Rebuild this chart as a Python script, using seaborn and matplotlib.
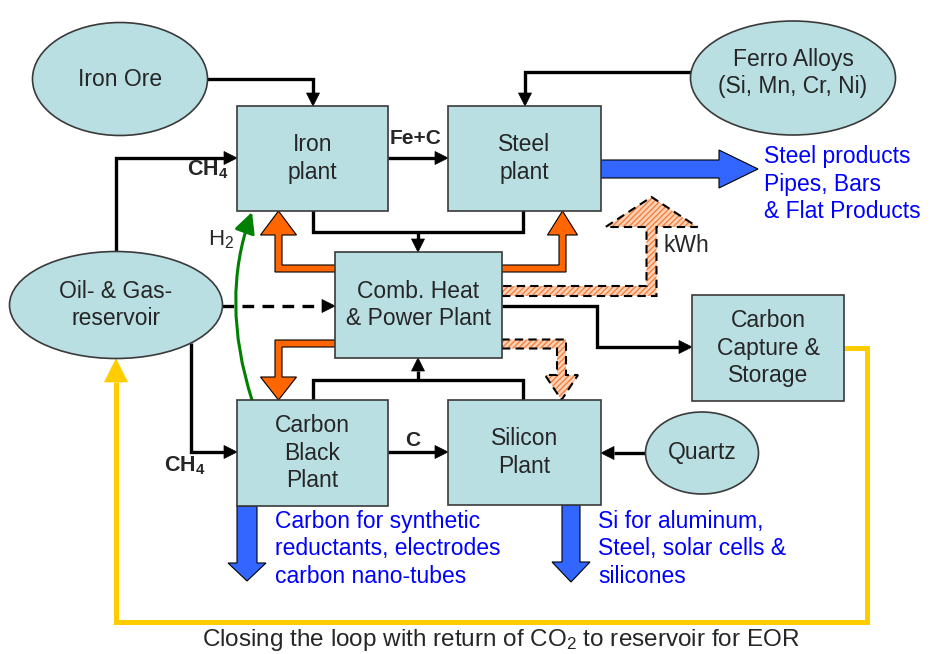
import numpy as np
import matplotlib
matplotlib.use("Agg")
import matplotlib.pyplot as plt
import seaborn as sns
from matplotlib.patches import Rectangle, Ellipse, Polygon, FancyArrowPatch
from matplotlib.path import Path

# labels of the flow diagram
plant_labels = ["Iron\nplant", "Steel\nplant", "Comb. Heat\n& Power Plant",
                "Carbon\nBlack\nPlant", "Silicon\nPlant", "Carbon\nCapture &\nStorage"]
source_labels = ["Iron Ore", "Ferro Alloys\n(Si, Mn, Cr, Ni)", "Oil- & Gas-\nreservoir", "Quartz"]
flow_labels = ["Fe+C", r"$\mathbf{CH_4}$", r"$\mathbf{CH_4}$", "C", r"H$_2$", "kWh"]
product_labels = ["Steel products\nPipes, Bars\n& Flat Products",
                  "Carbon for synthetic\nreductants, electrodes\ncarbon nano-tubes",
                  "Si for aluminum,\nSteel, solar cells &\nsilicones"]
caption = r"Closing the loop with return of CO$_2$ to reservoir for EOR"

sns.set_theme(style="white")
plt.rcParams["font.family"] = ["Liberation Sans", "DejaVu Sans"]
plt.rcParams["mathtext.fontset"] = "custom"
plt.rcParams["mathtext.rm"] = "Liberation Sans"
plt.rcParams["mathtext.bf"] = "Liberation Sans:bold"
plt.rcParams["mathtext.it"] = "Liberation Sans:italic"

FILL = "#B9DFE2"
EDGE = "#3A3A3A"
ORANGE = "#FF6600"
BLUE = "#3366FF"
TXTBLUE = "#0000FF"
GREEN = "#008000"
YELLOW = "#FFCC00"

fig = plt.figure(figsize=(9.3, 6.54), dpi=100)
ax = fig.add_axes([0, 0, 1, 1])
ax.set_xlim(0, 930)
ax.set_ylim(654, 0)
ax.set_axis_off()


def box(x0, y0, x1, y1, label):
    ax.add_patch(Rectangle((x0, y0), x1 - x0, y1 - y0, fc=FILL, ec=EDGE, lw=1.2, zorder=5))
    ax.text((x0 + x1) / 2, (y0 + y1) / 2, label, ha="center", va="center",
            fontsize=16.5, linespacing=1.25, zorder=6)


def oval(cx, cy, w, h, label, ty=None):
    ax.add_patch(Ellipse((cx, cy), w, h, fc=FILL, ec=EDGE, lw=1.2, zorder=5))
    ax.text(cx, cy if ty is None else ty, label, ha="center", va="center",
            fontsize=16.5, linespacing=1.25, zorder=6)


def thin_arrow(pts, color="black", lw=2.4, ls="-", head_len=13, head_w=13, z=3):
    pts = np.array(pts, float)
    d = pts[-1] - pts[-2]
    d = d / np.hypot(*d)
    base = pts[-1] - d * head_len
    line = np.vstack([pts[:-1], base])
    ax.plot(line[:, 0], line[:, 1], color=color, lw=lw, ls=ls, zorder=z,
            solid_capstyle="butt", solid_joinstyle="miter", dash_capstyle="butt")
    n = np.array([-d[1], d[0]])
    ax.add_patch(Polygon([base + n * head_w / 2, pts[-1], base - n * head_w / 2],
                         closed=True, fc=color, ec=color, lw=0.5, zorder=z))


def fat_outline(pts, hw, head_hw, head_len):
    pts = np.array(pts, float)
    d = pts[-1] - pts[-2]
    d = d / np.hypot(*d)
    base = pts[-1] - d * head_len
    path = np.vstack([pts[:-1], base])
    nrm = []
    for a, b in zip(path[:-1], path[1:]):
        s = (b - a) / np.hypot(*(b - a))
        nrm.append(np.array([-s[1], s[0]]))
    left, right = [], []
    for i, p in enumerate(path):
        if i == 0:
            n = nrm[0]
        elif i == len(path) - 1:
            n = nrm[-1]
        else:
            n = nrm[i - 1] + nrm[i]
        left.append(p + hw * n)
        right.append(p - hw * n)
    nl = nrm[-1]
    return left + [base + head_hw * nl, pts[-1], base - head_hw * nl] + right[::-1]


def fat_arrow(pts, hw, head_hw, head_len, fc, z=4):
    poly = fat_outline(pts, hw, head_hw, head_len)
    ax.add_patch(Polygon(poly, closed=True, fc=fc, ec="black", lw=0.8, zorder=z))


def hatched_arrow(pts, hw, head_hw, head_len, z=4):
    poly = fat_outline(pts, hw, head_hw, head_len)
    ax.add_patch(Polygon(poly, closed=True, fc="#FCD3B6", ec="#F5803F", lw=0,
                         hatch="//////", zorder=z))
    ax.add_patch(Polygon(poly, closed=True, fill=False, ec="black", lw=1.5,
                         ls=(0, (4, 2.5)), zorder=z + 0.1))


# boxes and ovals
box(237, 106, 388, 211, plant_labels[0])
box(448, 106, 601, 211, plant_labels[1])
box(335, 252, 502, 358, plant_labels[2])
box(237, 400, 388, 506, plant_labels[3])
box(448, 400, 601, 505, plant_labels[4])
box(692, 295, 844, 401, plant_labels[5])

oval(120, 79, 175, 113, source_labels[0])
oval(793, 78, 205, 114, source_labels[1], ty=73)
oval(116, 305, 213, 107, source_labels[2])
oval(702, 453, 113, 82, source_labels[3])

# thin black flows
thin_arrow([(207, 79), (313, 79), (313, 106)])
thin_arrow([(691, 72), (525, 72), (525, 106)])
thin_arrow([(116, 252), (116, 158), (237, 158)])
thin_arrow([(388, 158), (448, 158)])
thin_arrow([(191, 343), (191, 452), (237, 452)])
thin_arrow([(388, 452), (448, 452)])
thin_arrow([(646, 453), (601, 453)])
thin_arrow([(502, 306), (597, 306), (597, 347), (692, 347)])
thin_arrow([(222, 306), (335, 306)], ls=(0, (3.5, 2.5)))
ax.plot([313, 313, 523, 523], [211, 232, 232, 211], color="black", lw=2.4,
        solid_joinstyle="miter", zorder=3)
thin_arrow([(418, 232), (418, 252)])
ax.plot([313, 313, 523, 523], [400, 380, 380, 400], color="black", lw=2.4,
        solid_joinstyle="miter", zorder=3)
thin_arrow([(418, 380), (418, 358)])

# yellow CO2 return loop
thin_arrow([(844, 348), (867, 348), (867, 622), (116, 622), (116, 359)],
           color=YELLOW, lw=3.6, head_len=23, head_w=23, z=2)

# orange heat arrows
fat_arrow([(340, 268.5), (278.5, 268.5), (278.5, 211)], 3.5, 18, 24, ORANGE)
fat_arrow([(497, 268.5), (562.5, 268.5), (562.5, 211)], 3.5, 15, 24, ORANGE)
fat_arrow([(340, 343.5), (278.5, 343.5), (278.5, 400)], 3.5, 18, 23, ORANGE)

# electricity (hatched, dashed)
hatched_arrow([(502, 291), (651.5, 291), (651.5, 197)], 5, 46, 30)
hatched_arrow([(502, 344), (561.5, 344), (561.5, 400)], 4.5, 16.5, 25)

# product arrows
fat_arrow([(601, 169), (758, 169)], 9, 19, 39, BLUE)
fat_arrow([(247, 506), (247, 581)], 10, 19, 18, BLUE)
fat_arrow([(571, 505), (571, 582)], 9, 19, 20, BLUE)

# hydrogen curve
h2 = Path([(252, 400), (220, 300), (252, 212)], [Path.MOVETO, Path.CURVE3, Path.CURVE3])
ax.add_patch(FancyArrowPatch(path=h2, arrowstyle="-|>,head_length=0.7,head_width=0.35",
                             mutation_scale=18, color=GREEN, lw=2.2, zorder=4))

# flow labels
ax.text(416, 139, flow_labels[0], ha="center", va="center", fontsize=15, fontweight="bold")
ax.text(208, 170, flow_labels[1], ha="center", va="center", fontsize=15.5)
ax.text(185, 466, flow_labels[2], ha="center", va="center", fontsize=15.5)
ax.text(413, 441, flow_labels[3], ha="center", va="center", fontsize=15, fontweight="bold")
ax.text(221, 240, flow_labels[4], ha="center", va="center", fontsize=16)
ax.text(663, 246, flow_labels[5], ha="left", va="center", fontsize=16.5)

# product texts
ax.text(764, 184.5, product_labels[0], ha="left", va="center", fontsize=16.5,
        linespacing=1.25, color=TXTBLUE)
ax.text(275, 549, product_labels[1], ha="left", va="center", fontsize=16.5,
        linespacing=1.25, color=TXTBLUE)
ax.text(598, 549, product_labels[2], ha="left", va="center", fontsize=16.5,
        linespacing=1.25, color=TXTBLUE)

ax.text(501, 640, caption, ha="center", va="center", fontsize=17.5)

fig.savefig("out.png", dpi=100)
